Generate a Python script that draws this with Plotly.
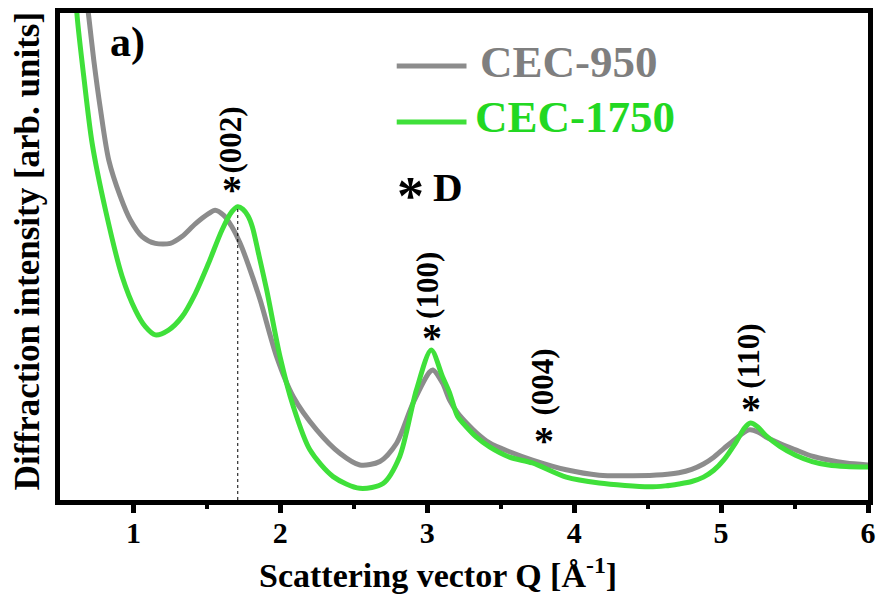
import plotly.graph_objects as go

# CEC-950 diffraction pattern (Q in 1/Å, intensity in arbitrary units)
q_950 = [0.66, 0.696, 0.730, 0.776, 0.832, 0.911, 0.979, 1.059, 1.149, 1.251, 1.330,
         1.421, 1.511, 1.556, 1.613, 1.670, 1.726, 1.782, 1.862, 1.975, 2.088, 2.247,
         2.405, 2.541, 2.677, 2.790, 2.903, 3.016, 3.038, 3.104, 3.152, 3.206, 3.267,
         3.335, 3.424, 3.560, 3.716, 3.946, 4.170, 4.400, 4.600, 4.713, 4.800, 4.880, 4.950,
         5.020, 5.100, 5.190, 5.250, 5.303, 5.400, 5.507, 5.620, 5.731, 5.850, 6.0]
i_950 = [108.0, 99.2, 90.3, 80.1, 69.8, 62.3, 57.5, 54.1, 52.7, 52.7, 54.1,
         56.7, 58.8, 59.5, 58.5, 56.1, 52.7, 48.3, 41.1, 29.4, 21.2, 14.4,
         9.6, 7.2, 7.9, 11.6, 19.9, 26.3, 26.7, 24.0, 20.5, 17.9, 15.8,
         13.8, 11.7, 9.9, 8.2, 6.2, 5.1, 5.0, 5.2, 5.6, 6.3, 7.4, 8.8,
         10.6, 12.6, 14.4, 14.0, 13.0, 11.6, 10.3, 9.0, 8.2, 7.6, 7.2]

# CEC-1750 diffraction pattern
q_1750 = [0.60, 0.617, 0.662, 0.719, 0.810, 0.923, 1.013, 1.081, 1.149, 1.239, 1.330,
          1.421, 1.511, 1.602, 1.670, 1.710, 1.745, 1.780, 1.810, 1.850, 1.907, 1.998, 2.088,
          2.201, 2.359, 2.541, 2.699, 2.812, 2.926, 3.027, 3.104, 3.152, 3.206, 3.267,
          3.335, 3.424, 3.560, 3.716, 3.946, 4.170, 4.509, 4.620, 4.713, 4.800, 4.880, 4.950,
          5.020, 5.100, 5.160, 5.200, 5.250, 5.303, 5.400, 5.507, 5.620, 5.731, 5.850, 6.0]
i_1750 = [108.0, 99.2, 86.9, 73.2, 59.5, 45.9, 39.0, 35.6, 33.9, 34.9, 37.6,
          42.4, 48.6, 55.4, 59.2, 60.2, 59.7, 58.3, 56.0, 50.8, 43.1, 29.4, 19.2,
          10.3, 4.8, 2.4, 3.4, 8.9, 22.6, 30.8, 25.3, 22.0, 17.2, 15.0,
          12.9, 10.9, 8.8, 7.6, 4.7, 3.5, 2.7, 2.9, 3.3, 3.8, 4.7, 6.1,
          8.3, 11.8, 14.8, 15.8, 15.0, 13.3, 11.0, 9.2, 7.9, 7.2, 6.9, 6.8]

# Reflection labels and their asterisk markers
peak_labels = ["(002)", "(100)", "(004)", "(110)"]
peak_q = [1.660, 3.003, 3.783, 5.190]
peak_label_y = [73.9, 44.1, 24.2, 29.4]
peak_star_q = [1.672, 3.030, 3.797, 5.202]
peak_star_y = [64.7, 34.3, 13.3, 19.9]

# Position of the (002) reference line
q_002 = 1.710
i_002 = 60.2

GRAY = "#8c8c8c"
GREEN = "#3fe03a"
FONT = "Liberation Serif"

fig = go.Figure()

fig.add_trace(go.Scatter(x=q_950, y=i_950, mode="lines", name="CEC-950",
                         line=dict(color=GRAY, width=5, shape="spline", smoothing=0.8)))
fig.add_trace(go.Scatter(x=q_1750, y=i_1750, mode="lines", name="CEC-1750",
                         line=dict(color=GREEN, width=5, shape="spline", smoothing=0.8)))

# dotted guide under the (002) peak
fig.add_trace(go.Scatter(x=[q_002, q_002], y=[0, i_002], mode="lines", showlegend=False,
                         line=dict(color="black", width=1, dash="dot")))

# legend drawn inside the frame
legend_rows = [("CEC-950", GRAY, "#7f7f7f", 89.1, 89.9, 3.342),
               ("CEC-1750", GREEN, "#22d822", 77.6, 78.6, 3.31)]
for name, lc, tc, ly, ty, tx in legend_rows:
    fig.add_trace(go.Scatter(x=[2.792, 3.267], y=[ly, ly], mode="lines", showlegend=False,
                             line=dict(color=lc, width=5)))
    fig.add_annotation(x=tx, y=ty, text="<b>%s</b>" % name, showarrow=False,
                       xanchor="left", yanchor="middle",
                       font=dict(family=FONT, size=45, color=tc))

annotations = []
for lab, qx, ly, sq, sy in zip(peak_labels, peak_q, peak_label_y, peak_star_q, peak_star_y):
    annotations.append(dict(x=qx, y=ly, text="<b>%s</b>" % lab, textangle=-90, showarrow=False,
                            xanchor="center", yanchor="middle",
                            font=dict(family=FONT, size=31, color="black")))
    annotations.append(dict(x=sq, y=sy, text="<b>*</b>", showarrow=False,
                            xanchor="center", yanchor="middle", yshift=-5,
                            font=dict(family=FONT, size=40, color="black")))

# "*D" marker key: a larger asterisk followed by the letter
annotations.append(dict(x=2.888, y=64.3, text="<b>*</b>", showarrow=False,
                        xanchor="center", yanchor="middle", yshift=-9,
                        font=dict(family=FONT, size=54, color="black")))
annotations.append(dict(x=3.140, y=64.3, text="<b>D</b>", showarrow=False,
                        xanchor="center", yanchor="middle",
                        font=dict(family=FONT, size=41, color="black")))
annotations.append(dict(x=0.959, y=94.0, text="<b>a)</b>", showarrow=False,
                        xanchor="center", yanchor="middle",
                        font=dict(family=FONT, size=42, color="black")))
# axis titles
annotations.append(dict(x=3.076, y=-0.150, xref="x", yref="paper",
                        text="<b>Scattering vector Q [Å<sup>-1</sup>]</b>", showarrow=False,
                        xanchor="center", yanchor="middle",
                        font=dict(family=FONT, size=34, color="black")))
annotations.append(dict(x=-0.0408, y=0.511, xref="paper", yref="paper",
                        text="<b>Diffraction intensity [arb. units]</b>", showarrow=False,
                        textangle=-90, xanchor="center", yanchor="middle",
                        font=dict(family=FONT, size=35, color="black")))
for a in annotations:
    fig.add_annotation(**a)

fig.update_layout(
    width=879, height=597,
    margin=dict(l=60, r=11, t=13, b=97, autoexpand=False),
    paper_bgcolor="white", plot_bgcolor="white",
    showlegend=False,
    xaxis=dict(range=[0.5, 6.0], tickvals=[1, 2, 3, 4, 5, 6], ticks="outside",
               ticklen=8, tickwidth=5, tickcolor="black", automargin=False,
               ticklabelstandoff=-6,
               showline=True, linewidth=5, linecolor="black", mirror=True,
               showgrid=False, zeroline=False,
               tickfont=dict(family=FONT, size=30, color="black", weight="bold"),
               minor=dict(tickvals=[1.5, 2.5, 3.5, 4.5, 5.5], ticks="outside",
                          ticklen=4, tickwidth=4, tickcolor="black")),
    yaxis=dict(range=[0, 100], showticklabels=False, ticks="", automargin=False,
               showline=True, linewidth=5, linecolor="black", mirror=True,
               showgrid=False, zeroline=False),
)

fig.write_html("out.html")
